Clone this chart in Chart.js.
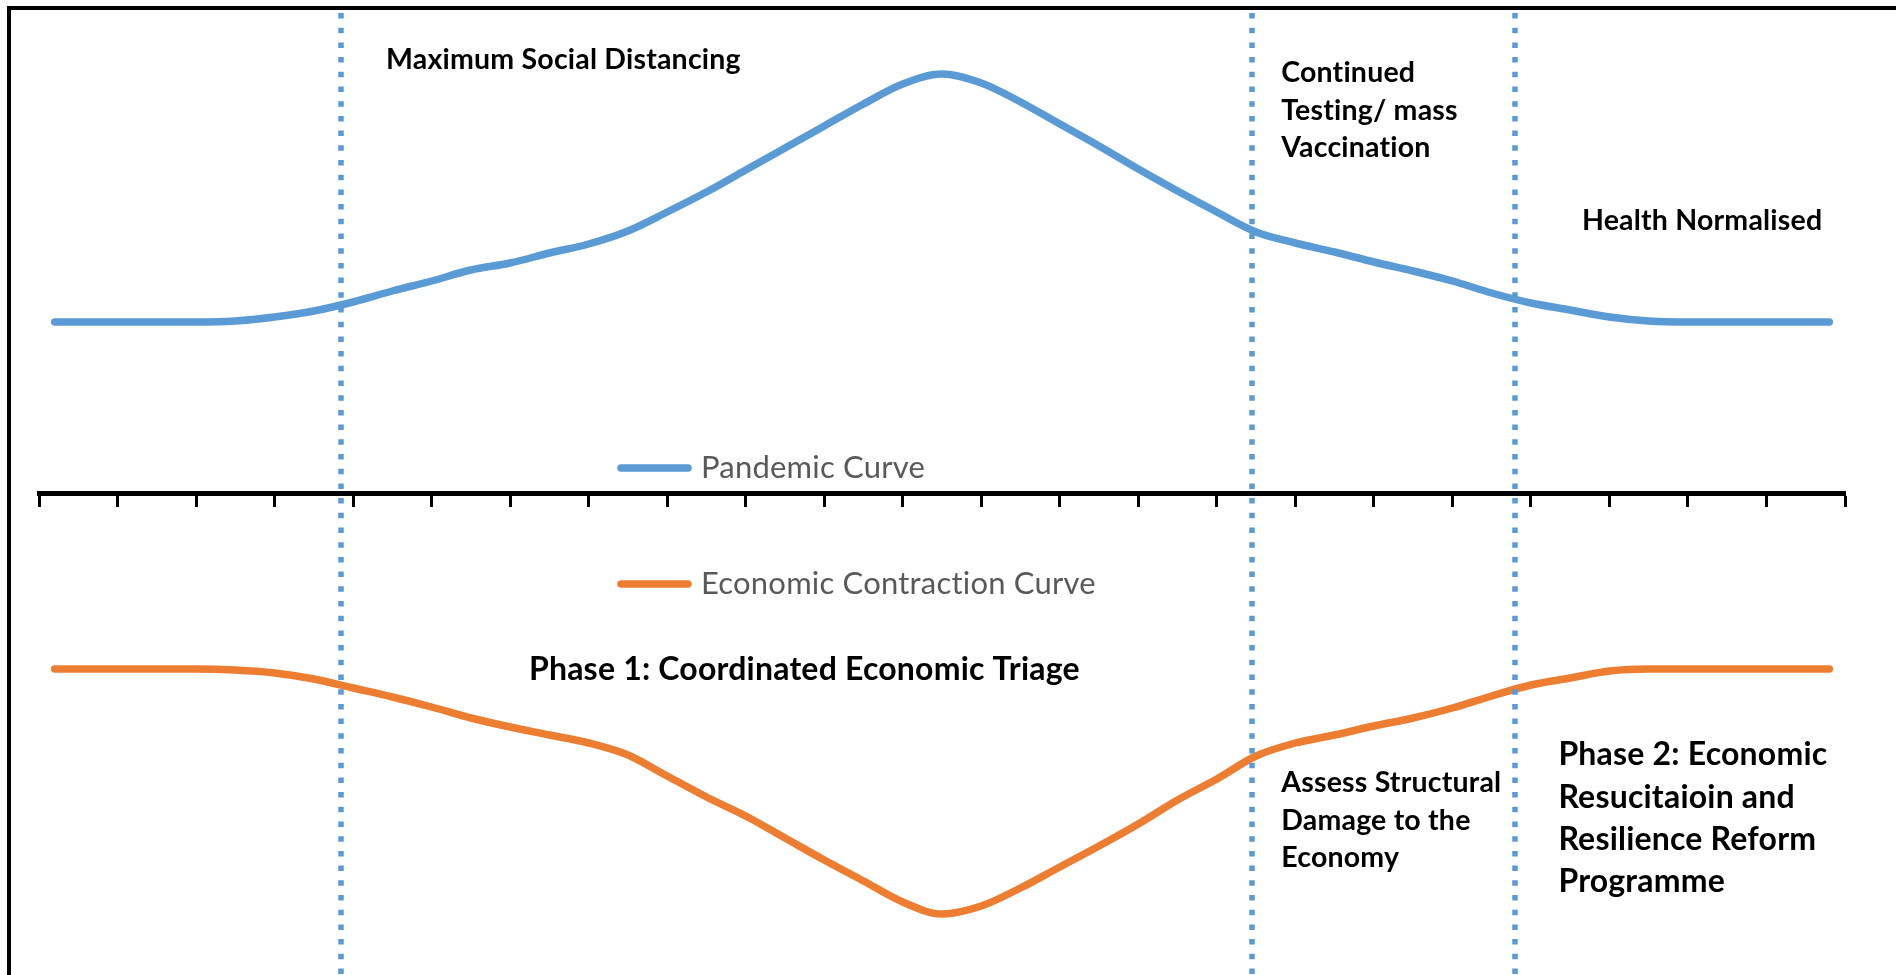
<!DOCTYPE html>
<html>
<head>
<meta charset="utf-8">
<title>Pandemic and Economic Contraction Curves</title>
<script src="https://cdn.jsdelivr.net/npm/chart.js@4.4.1/dist/chart.umd.min.js"></script>
<style>
    html, body { margin: 0; padding: 0; background: #fff; overflow: hidden; }
    .frame {
        position: absolute; left: 7px; top: 6px; width: 1900px; height: 980px;
        border-top: 4px solid #000; border-left: 4px solid #000;
    }
    .chart-box { position: absolute; left: 0; top: 0; width: 1896px; height: 975px; }
</style>
</head>
<body>
<div class="frame"></div>
<div class="chart-box">
    <canvas id="curveChart"></canvas>
</div>
<script>
// time axis (tick units) shared by both curves
const steps = [0.2, 0.5, 1, 1.5, 2, 2.5, 3, 3.5, 4, 4.5, 5, 5.5, 6, 6.5, 7, 7.5, 8, 8.5, 9, 9.5,
    10, 10.5, 11, 11.5, 12, 12.5, 13, 13.5, 14, 14.5, 15, 15.5, 16, 16.5, 17, 17.5, 18, 18.5, 19, 19.5,
    20, 20.5, 21, 21.5, 22, 22.5, 22.8]

const pandemic = [17.2, 17.2, 17.2, 17.2, 17.2, 17.3, 17.7, 18.3, 19.2, 20.3, 21.3, 22.4, 23.1, 24.1, 25.0, 26.3, 28.2, 30.2, 32.4, 34.6,
    36.8, 39.0, 41.0, 42.0, 41.1, 39.2, 37.0, 34.8, 32.5, 30.3, 28.2, 26.2, 25.1, 24.2, 23.2, 22.3, 21.3, 20.1, 19.1, 18.4,
    17.7, 17.3, 17.2, 17.2, 17.2, 17.2, 17.2]

const economy = [-17.5, -17.5, -17.5, -17.5, -17.5, -17.6, -17.9, -18.5, -19.4, -20.3, -21.3, -22.4, -23.3, -24.1, -24.9, -26.1, -28.2, -30.3, -32.2, -34.4,
    -36.6, -38.7, -40.8, -42.0, -41.2, -39.4, -37.3, -35.2, -33.0, -30.6, -28.5, -26.2, -24.9, -24.1, -23.2, -22.4, -21.4, -20.2, -19.1, -18.4,
    -17.7, -17.5, -17.5, -17.5, -17.5, -17.5, -17.5]

// phase boundaries on the time axis
const phaseBounds = [3.84, 15.45, 18.8]

const seriesNames = ['Pandemic Curve', 'Economic Contraction Curve']

const notes = [
    { lines: ['Maximum Social Distancing'], x: 4.42, y: 43.4, big: false },
    { lines: ['Continued', 'Testing/ mass', 'Vaccination'], x: 15.82, y: 42.1, big: false },
    { lines: ['Health Normalised'], x: 19.65, y: 27.3, big: false },
    { lines: ['Phase 1: Coordinated Economic Triage'], x: 6.24, y: -17.6, big: true },
    { lines: ['Assess Structural', 'Damage to the', 'Economy'], x: 15.82, y: -28.9, big: false },
    { lines: ['Phase 2: Economic', 'Resucitaioin and', 'Resilience Reform', 'Programme'], x: 19.35, y: -26.1, big: true },
]

const toPoints = (ys) => ys.map((v, i) => ({ x: steps[i], y: v }))

// Lato joins "ti" into a ligature by default, keep letters separate
function plainText(ctx) {
    ctx.textRendering = 'optimizeSpeed'
    ctx.letterSpacing = '0.2px'
}

const phaseLines = {
    id: 'phaseLines',
    afterDatasetsDraw(chart, args, opts) {
        const { ctx, chartArea, scales: { x } } = chart
        ctx.save()
        ctx.strokeStyle = opts.color
        ctx.lineWidth = opts.width
        ctx.setLineDash(opts.dash)
        opts.at.forEach((v) => {
            const px = Math.round(x.getPixelForValue(v))
            ctx.beginPath()
            ctx.moveTo(px, chartArea.top + 3)
            ctx.lineTo(px, chartArea.bottom)
            ctx.stroke()
        })
        ctx.restore()
    }
}

const lineLegend = {
    id: 'lineLegend',
    afterDraw(chart, args, opts) {
        const { ctx } = chart
        chart.data.datasets.forEach((ds, i) => {
            const y = opts.rows[i]
            ctx.save()
            ctx.strokeStyle = ds.borderColor
            ctx.lineWidth = ds.borderWidth
            ctx.lineCap = 'round'
            ctx.beginPath()
            ctx.moveTo(opts.left, y)
            ctx.lineTo(opts.left + opts.swatch, y)
            ctx.stroke()
            plainText(ctx)
            ctx.fillStyle = opts.color
            ctx.font = opts.font
            ctx.textBaseline = 'middle'
            ctx.fillText(ds.label, opts.left + opts.swatch + opts.gap, y)
            ctx.restore()
        })
    }
}

const phaseNotes = {
    id: 'phaseNotes',
    afterDraw(chart, args, opts) {
        const { ctx, scales: { x, y } } = chart
        ctx.save()
        plainText(ctx)
        ctx.fillStyle = '#000'
        ctx.textBaseline = 'middle'
        notes.forEach((n) => {
            const size = n.big ? opts.bigSize : opts.size
            const lh = n.big ? opts.bigLine : opts.line
            ctx.font = `bold ${size}px Lato`
            const px = x.getPixelForValue(n.x)
            const py = y.getPixelForValue(n.y)
            n.lines.forEach((t, i) => ctx.fillText(t, px, py + i * lh))
        })
        ctx.restore()
    }
}

const ctx = document.getElementById('curveChart').getContext('2d')
const curveChart = new Chart(ctx, {
    type: 'line',
    data: {
        datasets: [{
            label: seriesNames[0],
            data: toPoints(pandemic),
            borderColor: '#5B9BD5',
            borderWidth: 7.5,
        }, {
            label: seriesNames[1],
            data: toPoints(economy),
            borderColor: '#ED7D31',
            borderWidth: 7.5,
        }]
    },
    options: {
        responsive: true,
        maintainAspectRatio: false,
        devicePixelRatio: 1,
        animation: false,
        events: [],
        layout: { padding: { left: 39, right: 51, top: 10, bottom: 0 } },
        elements: {
            point: { radius: 0 },
            line: { cubicInterpolationMode: 'monotone', borderCapStyle: 'round', borderJoinStyle: 'round', fill: false }
        },
        scales: {
            x: {
                type: 'linear',
                min: 0,
                max: 23,
                position: { y: 0 },
                ticks: { stepSize: 1, display: false },
                grid: { drawOnChartArea: false, tickLength: 11, tickWidth: 3, tickColor: '#000' },
                border: { color: '#000', width: 5 }
            },
            y: { display: false, min: -48.1, max: 48.4 }
        },
        plugins: {
            legend: { display: false },
            tooltip: { enabled: false },
            phaseLines: { at: phaseBounds, color: '#5B9BD5', width: 5.5, dash: [5.5, 9.2] },
            lineLegend: { left: 621, swatch: 67, gap: 13, rows: [468, 584], color: '#595959', font: '31px Lato' },
            phaseNotes: { size: 28.5, line: 37.5, bigSize: 32, bigLine: 42.2 }
        }
    },
    plugins: [phaseLines, lineLegend, phaseNotes]
})
</script>
</body>
</html>
